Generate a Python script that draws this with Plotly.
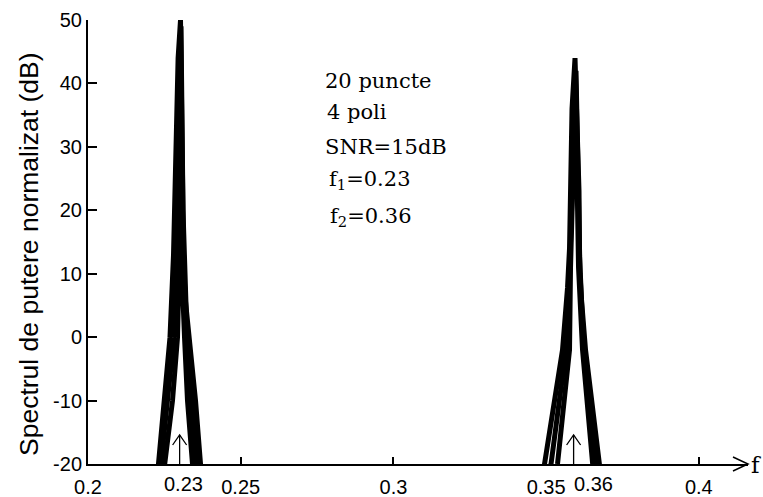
import plotly.graph_objects as go

# ---- data ----
x_ticks = [0.2, 0.25, 0.3, 0.35, 0.4]
x_tick_text = ["0.2", "0.25", "0.3", "0.35", "0.4"]
y_ticks = [-20, -10, 0, 10, 20, 30, 40, 50]
y_tick_text = ["-20", "-10", "0", "10", "20", "30", "40", "50"]

true_freqs = [0.23, 0.36]
true_freq_labels = ["0.23", "0.36"]
arrow_freqs = [0.23, 0.359]

# three overlaid spectra (frequency, dB): peak 1 then peak 2
spec1_f = [0.22194, 0.22308, 0.22505, 0.22685, 0.22800, 0.22865, 0.22950, 0.23029, 0.23070,
           0.23135, 0.23193, 0.23324, 0.23520, 0.23684, 0.23782,
           0.34735, 0.34948, 0.35537, 0.35635, 0.35701, 0.35766, 0.35848, 0.35946, 0.36077,
           0.36094, 0.36159, 0.36290, 0.36749, 0.36896]
spec1_db = [-26, -20, -10, 0, 13, 28.6, 44, 50, 33, 10.6, 5.6, 0, -10, -20, -26,
            -26, -20, -2, 2.7, 7.8, 14, 36, 44, 23, 12.7, 5.9, -2, -20, -26]

spec2_f = [0.22358, 0.22505, 0.22767, 0.22931, 0.22980, 0.23029, 0.23078, 0.23160, 0.23258,
           0.23422, 0.23536,
           0.35193, 0.35373, 0.35766, 0.35799, 0.35963, 0.36061, 0.36192, 0.36519, 0.36634]
spec2_db = [-26, -20, -10, 0, 10, 47, 10, 0, -10, -20, -26,
            -26, -20, -2, 11, 40, 11, -2, -20, -26]

spec3_f = [0.22259, 0.22390, 0.22636, 0.22816, 0.22914, 0.23045, 0.23111, 0.23242, 0.23389,
           0.23553, 0.23651,
           0.34964, 0.35161, 0.35652, 0.35766, 0.35979, 0.36110, 0.36241, 0.36634, 0.36765]
spec3_db = [-26, -20, -10, 0, 20, 49, 20, 0, -10, -20, -26,
            -26, -20, -2, 10, 42, 10, -2, -20, -26]

info_lines = ["20 puncte", "4 poli", "SNR=15dB", "f<sub>1</sub>=0.23", "f<sub>2</sub>=0.36"]

X_MIN, X_MAX = 0.2, 0.4161
Y_MIN, Y_MAX = -20, 50

fig = go.Figure()
for fx, fy in [(spec1_f, spec1_db), (spec2_f, spec2_db), (spec3_f, spec3_db)]:
    fig.add_trace(go.Scatter(x=fx, y=fy, mode="lines",
                             line=dict(color="black", width=5),
                             showlegend=False, hoverinfo="skip"))

shapes = []
# arrows marking true frequencies
for f in arrow_freqs:
    shapes.append(dict(type="path", xref="x", yref="y", xsizemode="pixel", ysizemode="pixel",
                       xanchor=f, yanchor=Y_MIN, path="M 0 0 L 0 29",
                       line=dict(color="black", width=1.3)))
    shapes.append(dict(type="path", xref="x", yref="y", xsizemode="pixel", ysizemode="pixel",
                       xanchor=f, yanchor=Y_MIN, path="M -7 19 L 0 29 L 7 19",
                       line=dict(color="black", width=1.3)))
# chevron at end of x axis
shapes.append(dict(type="path", xref="paper", yref="paper", xsizemode="pixel", ysizemode="pixel",
                   xanchor=1, yanchor=0, path="M -15 7 L 0 0 L -15 -7",
                   line=dict(color="black", width=1.5)))

annotations = []
# y-axis title
annotations.append(dict(text="Spectrul de putere normalizat (dB)", textangle=-90,
                        xref="paper", yref="paper", x=0, y=0.473, xanchor="center", yanchor="middle",
                        xshift=-59, showarrow=False,
                        font=dict(family="Liberation Sans", size=26.5, color="black")))
# extra tick labels at true frequencies
for f, lab, sh in zip(true_freqs, true_freq_labels, [4, 17]):
    annotations.append(dict(text=lab, xref="x", yref="paper", x=f, y=0, xanchor="center",
                            yanchor="top", xshift=sh, yshift=-7, showarrow=False,
                            font=dict(family="Liberation Sans", size=20, color="black")))
# "f" axis label
annotations.append(dict(text="f", xref="paper", yref="paper", x=1, y=0, xanchor="left",
                        yanchor="middle", xshift=1, yshift=-1, showarrow=False,
                        font=dict(family="DejaVu Serif", size=23, color="black")))
# info text block
info_y_px = [81, 112, 147, 180, 217]
info_x_px = [323, 325, 323, 327, 328]
for txt, yp, xp in zip(info_lines, info_y_px, info_x_px):
    annotations.append(dict(text=txt, xref="paper", yref="paper",
                            x=(xp - 88) / 660, y=(464 - yp) / 444,
                            xanchor="left", yanchor="middle", showarrow=False,
                            font=dict(family="DejaVu Serif", size=21, color="black")))

fig.update_layout(
    width=763, height=497,
    margin=dict(l=88, r=15, t=20, b=33),
    paper_bgcolor="white", plot_bgcolor="white",
    shapes=shapes, annotations=annotations,
    xaxis=dict(range=[X_MIN, X_MAX], tickvals=x_ticks, ticktext=x_tick_text,
               ticks="inside", ticklen=7, tickwidth=1.5, tickcolor="black",
               ticklabelstandoff=4, automargin=False,
               showline=True, linecolor="black", linewidth=2,
               showgrid=False, zeroline=False,
               tickfont=dict(family="Liberation Sans", size=20, color="black")),
    yaxis=dict(range=[Y_MIN, Y_MAX], tickvals=y_ticks, ticktext=y_tick_text,
               ticks="inside", ticklen=9, tickwidth=1.5, tickcolor="black",
               automargin=False,
               showline=True, linecolor="black", linewidth=2,
               showgrid=False, zeroline=False,
               tickfont=dict(family="Liberation Sans", size=20, color="black")),
)

fig.write_html("out.html")
